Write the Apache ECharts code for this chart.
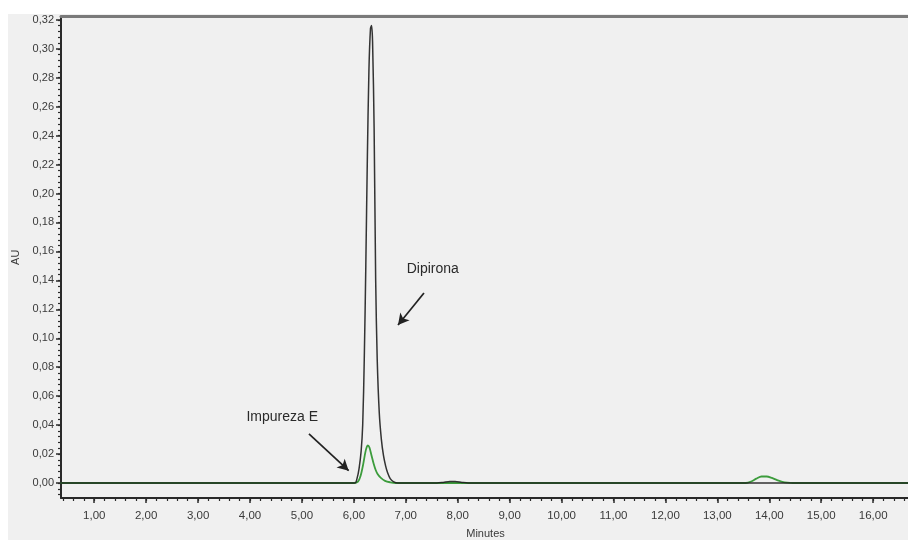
<!DOCTYPE html>
<html>
<head>
<meta charset="utf-8">
<script src="https://cdn.jsdelivr.net/npm/echarts@6/dist/echarts.min.js"></script>
<style>
  html, body { margin: 0; padding: 0; background: #ffffff; }
  #chart { position: absolute; left: 8px; top: 14px; width: 900px; height: 526px; }
</style>
</head>
<body>
<div id="chart"></div>
<script>
// Chromatogram: Dipirona (black trace) and Impureza E (green trace)
const yTicks = [0.00, 0.02, 0.04, 0.06, 0.08, 0.10, 0.12, 0.14, 0.16, 0.18, 0.20, 0.22, 0.24, 0.26, 0.28, 0.30, 0.32];
const xTicks = [1, 2, 3, 4, 5, 6, 7, 8, 9, 10, 11, 12, 13, 14, 15, 16];

// [minutes, AU]
const dipironaTrace = [
  [0.3, 0], [6.02, 0], [6.06, 0.003], [6.10, 0.010], [6.14, 0.022], [6.17, 0.040],
  [6.20, 0.085], [6.23, 0.150], [6.26, 0.225], [6.29, 0.285], [6.32, 0.314],
  [6.34, 0.316], [6.36, 0.305], [6.39, 0.245], [6.42, 0.140], [6.45, 0.085],
  [6.49, 0.048], [6.53, 0.030], [6.57, 0.019], [6.61, 0.012], [6.65, 0.007],
  [6.70, 0.003], [6.76, 0.001], [6.85, 0], [7.60, 0], [7.72, 0.0004],
  [7.85, 0.0010], [7.95, 0.0010], [8.08, 0.0004], [8.20, 0], [16.8, 0]
];
const impurezaTrace = [
  [0.3, 0], [6.00, 0], [6.08, 0.001], [6.13, 0.005], [6.18, 0.013], [6.22, 0.021],
  [6.25, 0.025], [6.27, 0.026], [6.30, 0.0245], [6.34, 0.019], [6.38, 0.0135],
  [6.42, 0.009], [6.46, 0.006], [6.52, 0.0035], [6.60, 0.0015], [6.70, 0.0005],
  [6.80, 0], [13.55, 0], [13.65, 0.001], [13.75, 0.003], [13.85, 0.0045],
  [13.95, 0.0045], [14.05, 0.0035], [14.15, 0.002], [14.25, 0.0008],
  [14.35, 0.0002], [14.45, 0], [16.8, 0]
];

// annotation anchors in data units: text position, arrow start, arrow end
const impurezaNote = { text: 'Impureza E', at: [4.62, 0.0456], from: [5.135, 0.0339], to: [5.90, 0.0085] };
const dipironaNote = { text: 'Dipirona', at: [7.52, 0.148], from: [7.35, 0.1313], to: [6.85, 0.1092] };

const X_MIN = 0.36, X_MAX = 16.71;
const Y_MIN = -0.01037, Y_MAX = 0.3223;

const minorX = [];
for (let v = 0.4; v <= 16.7; v += 0.2) minorX.push(Math.round(v * 10) / 10);
const minorY = [];
for (let v = -0.008; v <= 0.3221; v += 0.004) minorY.push(Math.round(v * 1000) / 1000);

const comma = v => v.toFixed(2).replace('.', ',');
const fontFamily = '"Liberation Sans", Arial, sans-serif';
const textColor = '#3a3a3a';

const chart = echarts.init(document.getElementById('chart'), null, { renderer: 'canvas' });

function note(n) {
  return {
    markLine: {
      silent: true,
      symbol: ['none', 'arrow'],
      symbolSize: [9, 11],
      label: { show: false },
      lineStyle: { color: '#222', width: 1.7, type: 'solid' },
      data: [[{ coord: n.from }, { coord: n.to }]],
      animation: false
    },
    markPoint: {
      silent: true,
      symbol: 'circle',
      symbolSize: 0,
      label: {
        show: true, position: 'inside', formatter: n.text,
        color: '#2a2a2a', fontSize: 14, fontFamily: fontFamily
      },
      data: [{ coord: n.at }],
      animation: false
    }
  };
}

chart.setOption({
  backgroundColor: '#f0f0f0',
  animation: false,
  grid: { left: 53, right: -2, top: 2.5, bottom: 42, outerBoundsMode: 'none', containLabel: false },
  xAxis: [
    {
      type: 'value', position: 'bottom', min: X_MIN, max: X_MAX,
      name: 'Minutes', nameLocation: 'middle', nameGap: 30,
      nameTextStyle: { color: textColor, fontSize: 11, fontFamily: fontFamily },
      axisLine: { show: true, onZero: false, lineStyle: { color: '#2a2a2a', width: 2 } },
      axisTick: { show: true, inside: false, length: 5, customValues: xTicks, lineStyle: { color: '#2a2a2a', width: 1.5 } },
      axisLabel: { customValues: xTicks, formatter: comma, color: textColor, fontSize: 11.5, fontFamily: fontFamily, margin: 12 },
      splitLine: { show: false }
    },
    {
      type: 'value', position: 'bottom', min: X_MIN, max: X_MAX,
      axisLine: { show: false, onZero: false },
      axisTick: { show: true, inside: false, length: 3, customValues: minorX, lineStyle: { color: '#2a2a2a', width: 1.2 } },
      axisLabel: { show: false },
      splitLine: { show: false }
    },
    {
      type: 'value', position: 'top', min: X_MIN, max: X_MAX,
      axisLine: { show: true, onZero: false, lineStyle: { color: '#7a7a7a', width: 3 } },
      axisTick: { show: false },
      axisLabel: { show: false },
      splitLine: { show: false }
    }
  ],
  yAxis: [
    {
      type: 'value', min: Y_MIN, max: Y_MAX,
      name: 'AU', nameLocation: 'middle', nameGap: 38, nameRotate: 90,
      nameTextStyle: { color: textColor, fontSize: 11, fontFamily: fontFamily },
      axisLine: { show: true, onZero: false, lineStyle: { color: '#2a2a2a', width: 2 } },
      axisTick: { show: true, inside: false, length: 5, customValues: yTicks, lineStyle: { color: '#2a2a2a', width: 1.5 } },
      axisLabel: { customValues: yTicks, formatter: comma, color: textColor, fontSize: 11, fontFamily: fontFamily, margin: 7 },
      splitLine: { show: false }
    },
    {
      type: 'value', min: Y_MIN, max: Y_MAX, position: 'left',
      axisLine: { show: false, onZero: false },
      axisTick: { show: true, inside: false, length: 3, customValues: minorY, lineStyle: { color: '#2a2a2a', width: 1.2 } },
      axisLabel: { show: false },
      splitLine: { show: false }
    }
  ],
  series: [
    Object.assign({
      name: 'Impureza E', type: 'line', data: impurezaTrace,
      xAxisIndex: 0, yAxisIndex: 0, showSymbol: false, smooth: 0.3, z: 2,
      lineStyle: { color: '#3c9c3c', width: 1.8 }
    }, note(impurezaNote)),
    Object.assign({
      name: 'Dipirona', type: 'line', data: dipironaTrace,
      xAxisIndex: 0, yAxisIndex: 0, showSymbol: false, smooth: 0.3, z: 3,
      lineStyle: { color: '#1e1e1e', width: 1.5, opacity: 0.9 }
    }, note(dipironaNote))
  ]
});
</script>
</body>
</html>
